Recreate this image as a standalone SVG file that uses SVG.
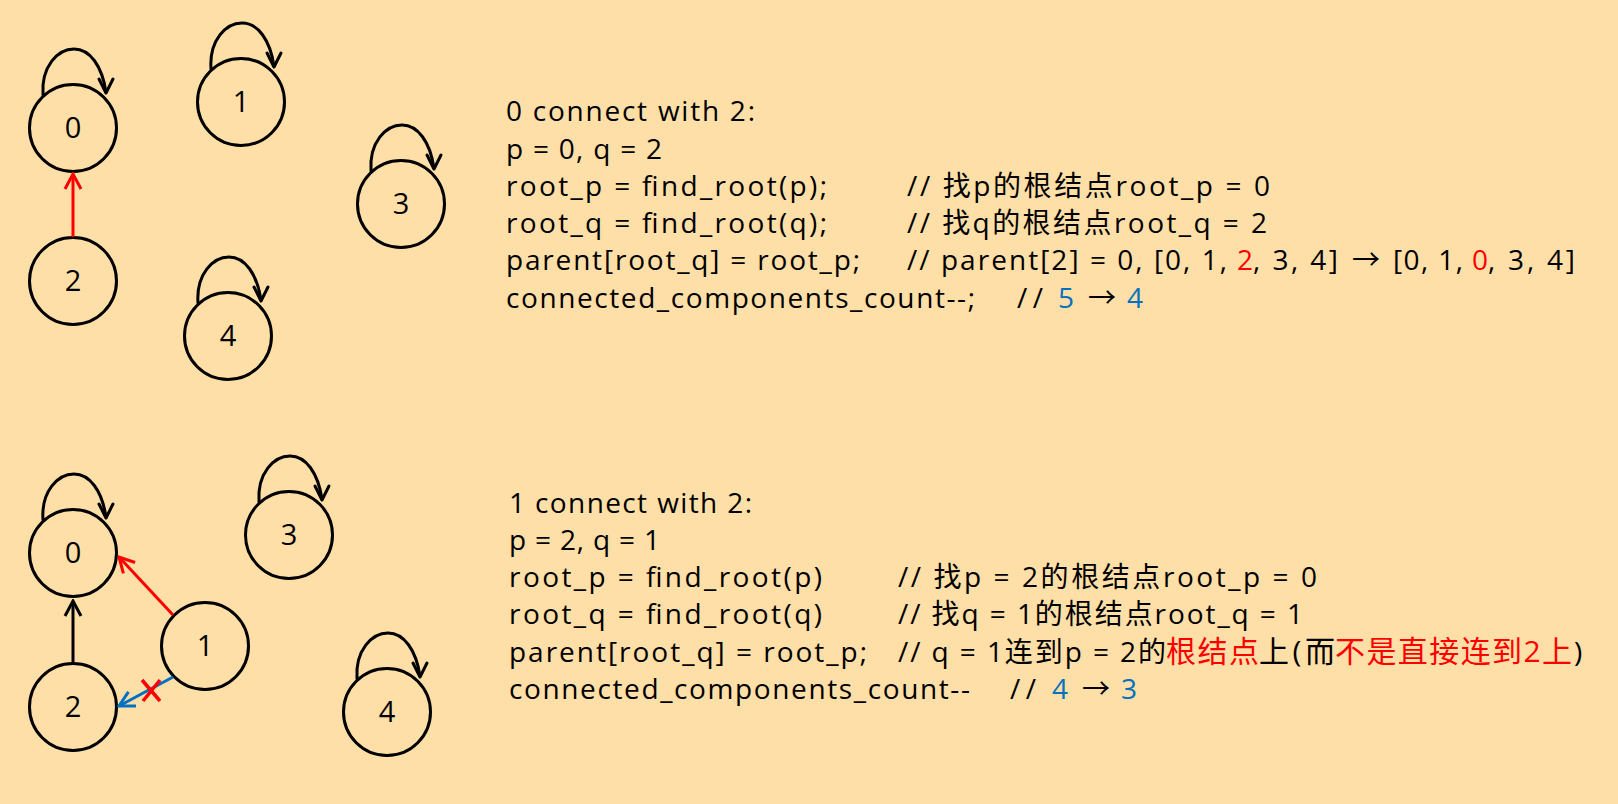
<svg xmlns="http://www.w3.org/2000/svg" xmlns:xlink="http://www.w3.org/1999/xlink" width="1618" height="804" viewBox="0 0 1618 804">
<style>
.t{font-family:"Open Sans","Noto Sans CJK SC",sans-serif;font-size:28px;fill:#000}
.c{font-family:"Open Sans","Noto Sans CJK SC",sans-serif;font-size:30px}
.r{fill:#FF0000}
.b{fill:#0070C0}
.node circle{fill:none;stroke:#000;stroke-width:3}
.node text{font-family:"Open Sans",sans-serif;font-size:29px;text-anchor:middle;fill:#000}
.lp{fill:none;stroke:#000;stroke-width:3;stroke-linecap:round;stroke-linejoin:round}
.edge{fill:none;stroke-width:3}
</style>
<defs>
<g id="loop" class="lp">
<path d="M-30,-33 C-32,-62 -15,-79 1,-79 C17,-79 29,-62 33,-36"/>
<polyline points="26,-49 33,-35 40,-49"/>
</g>
<marker id="ahRed" markerUnits="userSpaceOnUse" viewBox="-18 -10 20 20" refX="0" refY="0" markerWidth="20" markerHeight="20" orient="auto">
<path d="M-15,-8 L0,0 L-15,8" fill="none" stroke="#FF0000" stroke-width="3"/>
</marker>
<marker id="ahBlack" markerUnits="userSpaceOnUse" viewBox="-18 -10 20 20" refX="0" refY="0" markerWidth="20" markerHeight="20" orient="auto">
<path d="M-15,-8 L0,0 L-15,8" fill="none" stroke="#000" stroke-width="3"/>
</marker>
<marker id="ahBlue" markerUnits="userSpaceOnUse" viewBox="-18 -10 20 20" refX="0" refY="0" markerWidth="20" markerHeight="20" orient="auto">
<path d="M-15,-8 L0,0 L-15,8" fill="none" stroke="#0070C0" stroke-width="3"/>
</marker>
</defs>
<rect width="1618" height="804" fill="#FFDFA8"/>

<!-- top graph -->
<g id="top-n0" class="node"><circle cx="73" cy="128" r="43.5"/><use xlink:href="#loop" href="#loop" x="73" y="128"/><text x="73" y="138">0</text></g>
<g id="top-n1" class="node"><circle cx="241" cy="102" r="43.5"/><use xlink:href="#loop" href="#loop" x="241" y="102"/><text x="241" y="112">1</text></g>
<g id="top-n3" class="node"><circle cx="401" cy="204" r="43.5"/><use xlink:href="#loop" href="#loop" x="401" y="204"/><text x="401" y="214">3</text></g>
<g id="top-n2" class="node"><circle cx="73" cy="281" r="43.5"/><text x="73" y="291">2</text></g>
<g id="top-n4" class="node"><circle cx="228" cy="336" r="43.5"/><use xlink:href="#loop" href="#loop" x="228" y="336"/><text x="228" y="346">4</text></g>

<!-- bottom graph -->
<g id="bot-n0" class="node"><circle cx="73" cy="553" r="43.5"/><use xlink:href="#loop" href="#loop" x="73" y="553"/><text x="73" y="563">0</text></g>
<g id="bot-n3" class="node"><circle cx="289" cy="535" r="43.5"/><use xlink:href="#loop" href="#loop" x="289" y="535"/><text x="289" y="545">3</text></g>
<g id="bot-n1" class="node"><circle cx="205" cy="646" r="43.5"/><text x="205" y="656">1</text></g>
<g id="bot-n2" class="node"><circle cx="73" cy="707" r="43.5"/><text x="73" y="717">2</text></g>
<g id="bot-n4" class="node"><circle cx="387" cy="712" r="43.5"/><use xlink:href="#loop" href="#loop" x="387" y="712"/><text x="387" y="722">4</text></g>

<g id="connectors">
<line class="edge" x1="73" y1="237" x2="73" y2="174" stroke="#FF0000" marker-end="url(#ahRed)"/>
<line class="edge" x1="73" y1="663" x2="73" y2="601" stroke="#000" marker-end="url(#ahBlack)"/>
<line class="edge" x1="173" y1="615" x2="119" y2="557" stroke="#FF0000" marker-end="url(#ahRed)"/>
<line class="edge" x1="173" y1="677" x2="119" y2="706" stroke="#0070C0" marker-end="url(#ahBlue)"/>
<path d="M142,680 L160,701 M160,680 L143,701" fill="none" stroke="#FF0000" stroke-width="3.5"/>
</g>

<!-- top text -->
<g id="text-top">
<text class="t" x="506" y="121" textLength="249" lengthAdjust="spacing">0 connect with 2:</text>
<text class="t" x="506" y="159" textLength="156" lengthAdjust="spacing">p = 0, q = 2</text>
<text class="t" x="506" y="196" textLength="321" lengthAdjust="spacing">root_p = find_root(p);</text>
<text class="t" x="907" y="196" textLength="363" lengthAdjust="spacing">// 找p的根结点root_p = 0</text>
<text class="t" x="506" y="233" textLength="321" lengthAdjust="spacing">root_q = find_root(q);</text>
<text class="t" x="907" y="233" textLength="360" lengthAdjust="spacing">// 找q的根结点root_q = 2</text>
<text class="t" x="506" y="270" textLength="354" lengthAdjust="spacing">parent[root_q] = root_p;</text>
<text class="t" x="907" y="270" textLength="320" lengthAdjust="spacing">// parent[2] = 0, [0, 1,</text>
<text class="t r" x="1237" y="270">2</text>
<text class="t" x="1253" y="270" textLength="85" lengthAdjust="spacing">, 3, 4]</text>
<text class="t" x="1352" y="270">→</text>
<text class="t" x="1393" y="270" textLength="70" lengthAdjust="spacing">[0, 1,</text>
<text class="t r" x="1472" y="270">0</text>
<text class="t" x="1488" y="270" textLength="87" lengthAdjust="spacing">, 3, 4]</text>
<text class="t" x="506" y="308" textLength="469" lengthAdjust="spacing">connected_components_count--;</text>
<text class="t" x="1017" y="308" textLength="26" lengthAdjust="spacing">//</text>
<text class="t b" x="1058" y="308">5</text>
<text class="t" x="1088" y="308">→</text>
<text class="t b" x="1127" y="308">4</text>
</g>

<!-- bottom text -->
<g id="text-bottom">
<text class="t" x="509" y="513" textLength="243" lengthAdjust="spacing">1 connect with 2:</text>
<text class="t" x="509" y="550" textLength="151" lengthAdjust="spacing">p = 2, q = 1</text>
<text class="t" x="509" y="587" textLength="313" lengthAdjust="spacing">root_p = find_root(p)</text>
<text class="t" x="898" y="587" textLength="419" lengthAdjust="spacing">// 找p = 2的根结点root_p = 0</text>
<text class="t" x="509" y="624" textLength="313" lengthAdjust="spacing">root_q = find_root(q)</text>
<text class="t" x="898" y="624" textLength="405" lengthAdjust="spacing">// 找q = 1的根结点root_q = 1</text>
<text class="t" x="509" y="662" textLength="358" lengthAdjust="spacing">parent[root_q] = root_p;</text>
<text class="t" x="898" y="662" textLength="268" lengthAdjust="spacing">// q = 1连到p = 2的</text>
<text class="t c r" x="1166" y="662" textLength="93" lengthAdjust="spacing">根结点</text>
<text class="t c" x="1259" y="662" textLength="76" lengthAdjust="spacing">上(而</text>
<text class="t c r" x="1335" y="662" textLength="237" lengthAdjust="spacing">不是直接连到2上</text>
<text class="t" x="1574" y="662">)</text>
<text class="t" x="509" y="699" textLength="461" lengthAdjust="spacing">connected_components_count--</text>
<text class="t" x="1010" y="699" textLength="26" lengthAdjust="spacing">//</text>
<text class="t b" x="1052" y="699">4</text>
<text class="t" x="1082" y="699">→</text>
<text class="t b" x="1121" y="699">3</text>
</g>
</svg>
